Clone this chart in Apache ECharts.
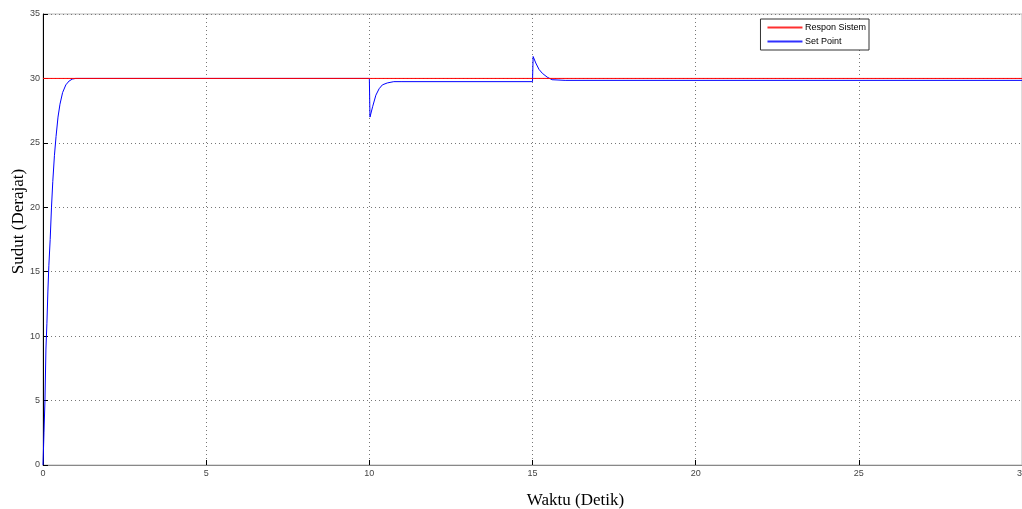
<!DOCTYPE html>
<html>
<head>
<meta charset="utf-8">
<script src="https://cdn.jsdelivr.net/npm/echarts@6/dist/echarts.min.js"></script>
<style>
  html, body { margin: 0; padding: 0; background: #fff; }
  #chart { width: 1022px; height: 509px; }
</style>
</head>
<body>
<div id="chart"></div>
<script>
// data
const xTicks = [0, 5, 10, 15, 20, 25, 30];
const yTicks = [0, 5, 10, 15, 20, 25, 30, 35];

const responTime = [0, 30];
const responValue = [30, 30];

// blue curve (Set Point)
const setPointTime = [0, 0.03, 0.06, 0.09, 0.12, 0.15, 0.18, 0.22, 0.26, 0.3, 0.35, 0.4, 0.46, 0.52, 0.6, 0.7, 0.8, 0.9, 1.0,
  10, 10.02, 10.1, 10.2, 10.3, 10.4, 10.55, 10.75, 11,
  15, 15.02, 15.1, 15.2, 15.3, 15.45, 15.6, 16, 30];
const setPointValue = [0, 2.5, 5, 9, 11, 13.5, 15.5, 17.5, 20, 22, 24, 25.5, 27, 28, 28.9, 29.5, 29.8, 29.95, 30,
  30, 27, 27.8, 28.7, 29.2, 29.5, 29.65, 29.75, 29.75,
  29.75, 31.7, 31.2, 30.7, 30.4, 30.1, 29.9, 29.85, 29.85];

const pairs = (t, v) => t.map((x, i) => [x, v[i]]);

const chart = echarts.init(document.getElementById("chart"), null, { renderer: "canvas" });

const tickFont = { fontFamily: "Liberation Sans", fontSize: 9, color: "#444" };

const option = {
  animation: false,
  backgroundColor: "#fff",
  grid: {
    left: 43,
    right: 0,
    top: 14,
    bottom: 44,
    containLabel: false,
    outerBoundsMode: "none",
    show: true,
    borderColor: "#bbb",
    borderWidth: 1
  },
  legend: {
    right: 153,
    top: 19,
    orient: "vertical",
    icon: "none",
    itemWidth: 1,
    itemHeight: 8,
    itemGap: 5,
    padding: [4, 3, 4, 1],
    backgroundColor: "#fff",
    borderColor: "#333",
    borderWidth: 1,
    borderRadius: 0,
    formatter: name => (name === "Respon Sistem" ? "{lineRed| }{txt| " + name + "}" : "{lineBlue| }{txt| " + name + "}"),
    textStyle: {
      fontFamily: "Liberation Sans",
      fontSize: 9,
      color: "#000",
      rich: {
        lineRed: { width: 35, height: 2, backgroundColor: "#ff3030", verticalAlign: "middle" },
        lineBlue: { width: 35, height: 2, backgroundColor: "#3030ff", verticalAlign: "middle" },
        txt: { fontFamily: "Liberation Sans", fontSize: 9, color: "#000", verticalAlign: "middle" }
      }
    },
    data: ["Respon Sistem", "Set Point"]
  },
  xAxis: {
    type: "value",
    min: 0,
    max: 30,
    interval: 5,
    name: "Waktu (Detik)",
    nameLocation: "middle",
    nameGap: 27,
    nameMoveOverlap: false,
    nameTextStyle: { fontFamily: "Liberation Serif", fontSize: 17, color: "#000", padding: [0, 0, 0, 86] },
    axisLine: { show: true, lineStyle: { color: "#888", width: 1 } },
    axisTick: { show: true, inside: true, length: 5, lineStyle: { color: "#000" } },
    axisLabel: Object.assign({ margin: 4 }, tickFont),
    splitLine: { show: true, lineStyle: { color: "#777", type: [1, 3], width: 1 } }
  },
  yAxis: {
    type: "value",
    min: 0,
    max: 35,
    interval: 5,
    name: "Sudut (Derajat)",
    nameLocation: "middle",
    nameGap: 16,
    nameMoveOverlap: false,
    nameTextStyle: { fontFamily: "Liberation Serif", fontSize: 17, color: "#000", padding: [0, 0, 0, 36] },
    axisLine: { show: true, lineStyle: { color: "#000", width: 1 } },
    axisTick: { show: true, inside: true, length: 5, lineStyle: { color: "#000" } },
    axisLabel: Object.assign({ margin: 3 }, tickFont),
    splitLine: { show: true, lineStyle: { color: "#777", type: [1, 3], width: 1 } }
  },
  series: [
    {
      name: "Respon Sistem",
      type: "line",
      color: "#ff0000",
      data: pairs(responTime, responValue),
      symbol: "none",
      z: 3,
      lineStyle: { color: "#ff0000", width: 1 },
      itemStyle: { color: "#ff0000" }
    },
    {
      name: "Set Point",
      type: "line",
      color: "#0000ff",
      data: pairs(setPointTime, setPointValue),
      symbol: "none",
      z: 2,
      lineStyle: { color: "#0000ff", width: 1 },
      itemStyle: { color: "#0000ff" }
    }
  ]
};

chart.setOption(option);
</script>
</body>
</html>
